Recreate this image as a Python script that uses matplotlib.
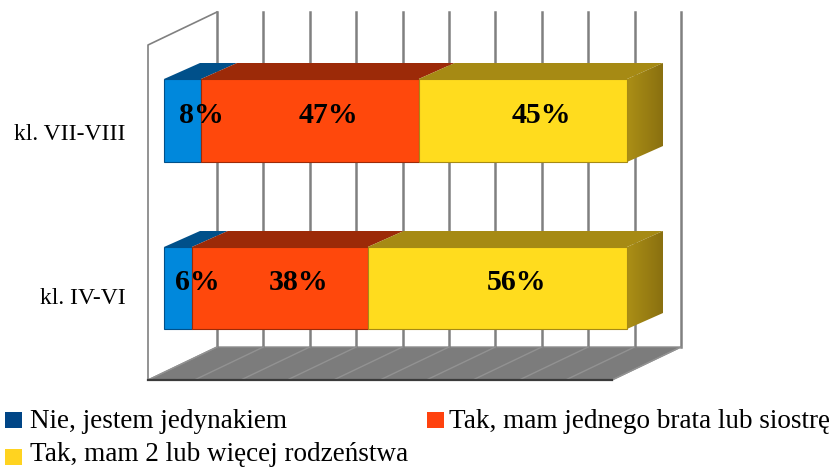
import numpy as np
import matplotlib
matplotlib.use("Agg")
import matplotlib.pyplot as plt
from matplotlib.patches import Polygon, Rectangle

categories = ["kl. VII-VIII", "kl. IV-VI"]
series_names = ["Nie, jestem jedynakiem", "Tak, mam jednego brata lub siostrę", "Tak, mam 2 lub więcej rodzeństwa"]
series_values = [[8, 6], [47, 38], [45, 56]]
grid_ticks = list(range(0, 101, 10))

front_colors = ["#0088dc", "#ff480c", "#ffdc1e"]
top_colors = ["#00508a", "#9c2a08", "#a68a14"]
legend_colors = ["#004586", "#ff420e", "#ffd320"]
FONT = "Liberation Serif"

# pixel geometry of the fake 3D box
X0, X100 = 164, 627
BOX_X0, BOX_X100 = 148, 612
BOX_DX, BOX_DY = 69, -33
BOX_TOP, BOX_BOTTOM = 45, 380
BAR_DX, BAR_DY = 36, -16
BAR_Y = [(79, 162), (247, 329)]
LABEL_Y = [134, 299]


def bar_x(v):
    return X0 + (X100 - X0) * v / 100


def box_x(v):
    return BOX_X0 + (BOX_X100 - BOX_X0) * v / 100


fig = plt.figure(figsize=(8.35, 4.68), dpi=100)
ax = fig.add_axes([0, 0, 1, 1])
ax.set_xlim(0, 835)
ax.set_ylim(468, 0)
ax.axis("off")

# floor
ax.add_patch(Polygon([(box_x(0), BOX_BOTTOM), (box_x(100), BOX_BOTTOM),
                      (box_x(100) + BOX_DX, BOX_BOTTOM + BOX_DY), (box_x(0) + BOX_DX, BOX_BOTTOM + BOX_DY)],
                     fc="#7c7c7c", ec="#8c8c8c", lw=1, zorder=1))
for t in grid_ticks:
    # back wall line and its floor line
    ax.plot([box_x(t) + BOX_DX] * 2, [BOX_TOP + BOX_DY, BOX_BOTTOM + BOX_DY], color="#808080", lw=1.8, zorder=1)
    ax.plot([box_x(t), box_x(t) + BOX_DX], [BOX_BOTTOM, BOX_BOTTOM + BOX_DY], color="#929292", lw=1, zorder=2)
ax.plot([box_x(0), box_x(100)], [BOX_BOTTOM, BOX_BOTTOM], color="#3a3a3a", lw=1.6, zorder=3)

# left wall
ax.plot([box_x(0), box_x(0), box_x(0) + BOX_DX], [BOX_BOTTOM, BOX_TOP, BOX_TOP + BOX_DY],
        color="#808080", lw=1.2, zorder=2)

# bars
for i, cat in enumerate(categories):
    y0, y1 = BAR_Y[i]
    left = 0
    for s, vals in enumerate(series_values):
        v = vals[i]
        xa, xb = bar_x(left), bar_x(left + v)
        ax.add_patch(Polygon([(xa, y0), (xa + BAR_DX, y0 + BAR_DY), (xb + BAR_DX, y0 + BAR_DY), (xb, y0)],
                             fc=top_colors[s], ec="none", zorder=4))
        ax.add_patch(Rectangle((xa, y0), xb - xa, y1 - y0, fc=front_colors[s],
                               ec=top_colors[s], lw=0.8, zorder=5))
        ax.text((xa + xb + BAR_DX) / 2 + 1, (y0 + y1 + BAR_DY) / 2 + 3, f"{v}%", ha="center", va="center",
                family=FONT, fontweight="bold", fontsize=21.5, color="black", zorder=7)
        left += v
    # end face of the last segment, darker to the back
    xe = bar_x(100)
    side = Polygon([(xe, y0), (xe + BAR_DX, y0 + BAR_DY), (xe + BAR_DX, y1 + BAR_DY), (xe, y1)],
                   fc="none", ec="none", zorder=4)
    ax.add_patch(side)
    grad = np.linspace(0, 1, 64).reshape(1, -1)
    cmap = matplotlib.colors.LinearSegmentedColormap.from_list("side", ["#ab8f16", "#8a7010"])
    im = ax.imshow(grad, extent=(xe, xe + BAR_DX, y1, y0 + BAR_DY), cmap=cmap, aspect="auto", zorder=4)
    im.set_clip_path(side)
    ax.text(126, LABEL_Y[i], cat, ha="right", va="center", family=FONT, fontsize=17, color="black")

ax.set_xlim(0, 835)
ax.set_ylim(468, 0)

# legend: x of box, y of box centre, x and y of text
legend_pos = [(5, 420, 30, 421), (427, 420, 449, 421), (5, 457, 30, 454.5)]
for name, col, (lx, ly, tx, ty) in zip(series_names, legend_colors, legend_pos):
    ax.add_patch(Rectangle((lx, ly - 8), 17, 16, fc=col, ec="none", zorder=3))
    ax.text(tx, ty, name, ha="left", va="center", family=FONT, fontsize=19.5, color="black")

fig.savefig("out.png", dpi=100)
